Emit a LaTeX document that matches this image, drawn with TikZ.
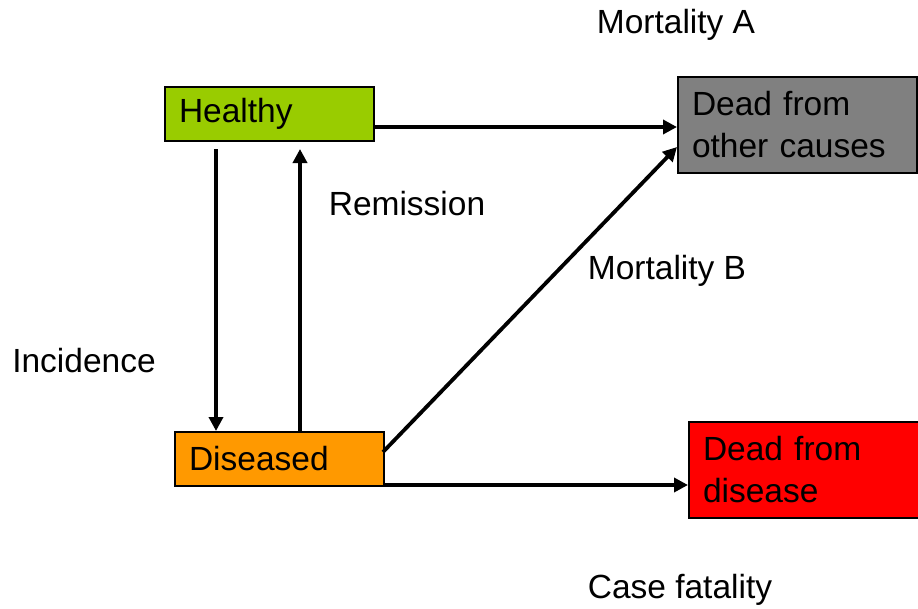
\documentclass[tikz,border=0pt]{standalone}
\usepackage{fontspec}
\setmainfont{Liberation Sans}
\usetikzlibrary{arrows.meta}
\definecolor{cgreen}{RGB}{153,204,0}
\definecolor{corange}{RGB}{255,153,0}
\definecolor{cgray}{RGB}{128,128,128}
\definecolor{cred}{RGB}{255,0,0}
\begin{document}
\begin{tikzpicture}[x=1pt,y=-1pt,
  every node/.style={font=\fontsize{33.5}{42}\selectfont},
  statebox/.style={draw=black,line width=2pt,anchor=north west,inner xsep=14pt,inner ysep=0pt,align=left},
  lbl/.style={inner sep=0pt},
  conn/.style={line width=3.8pt,-{Triangle[length=14pt,width=14pt]}}]
\useasboundingbox (0,0) rectangle (918,608);
\begin{scope}
\clip (0,0) rectangle (918,608);
\node[statebox,fill=cgreen,minimum width=209pt,minimum height=54pt,text width=181pt] (H) at (164,86) {Healthy};
\node[statebox,fill=cgray,minimum width=239pt,minimum height=96pt,text width=211pt] (DO) at (677,76) {Dead from\\other causes};
\node[statebox,fill=corange,minimum width=209pt,minimum height=54pt,text width=181pt] (D) at (174,431) {Diseased};
\node[statebox,fill=cred,minimum width=240pt,minimum height=96pt,text width=212pt] (DD) at (688,421) {Dead from\\disease};
\end{scope}
\coordinate (h1) at (373,127);
\coordinate (h2) at (216,149);
\coordinate (h3) at (300,149);
\coordinate (d1) at (216,431);
\coordinate (d2) at (300,431);
\coordinate (d3) at (383,452);
\coordinate (d4) at (383,485);
\coordinate (o1) at (677,127);
\coordinate (o2) at (677,147);
\coordinate (x1) at (688,485);
\draw[conn] (h1) -- (o1);
\draw[conn] (h2) -- (d1);
\draw[conn] (d2) -- (h3);
\draw[conn] (d3) -- (o2);
\draw[conn] (d4) -- (x1);
\node[lbl] (mA) at (676,25) {Mortality A};
\node[lbl] (rem) at (407,204) {Remission};
\node[lbl] (mB) at (667,271) {Mortality B};
\node[lbl] (inc) at (84,361) {Incidence};
\node[lbl] (cf) at (680,590) {Case fatality};
\end{tikzpicture}
\end{document}
